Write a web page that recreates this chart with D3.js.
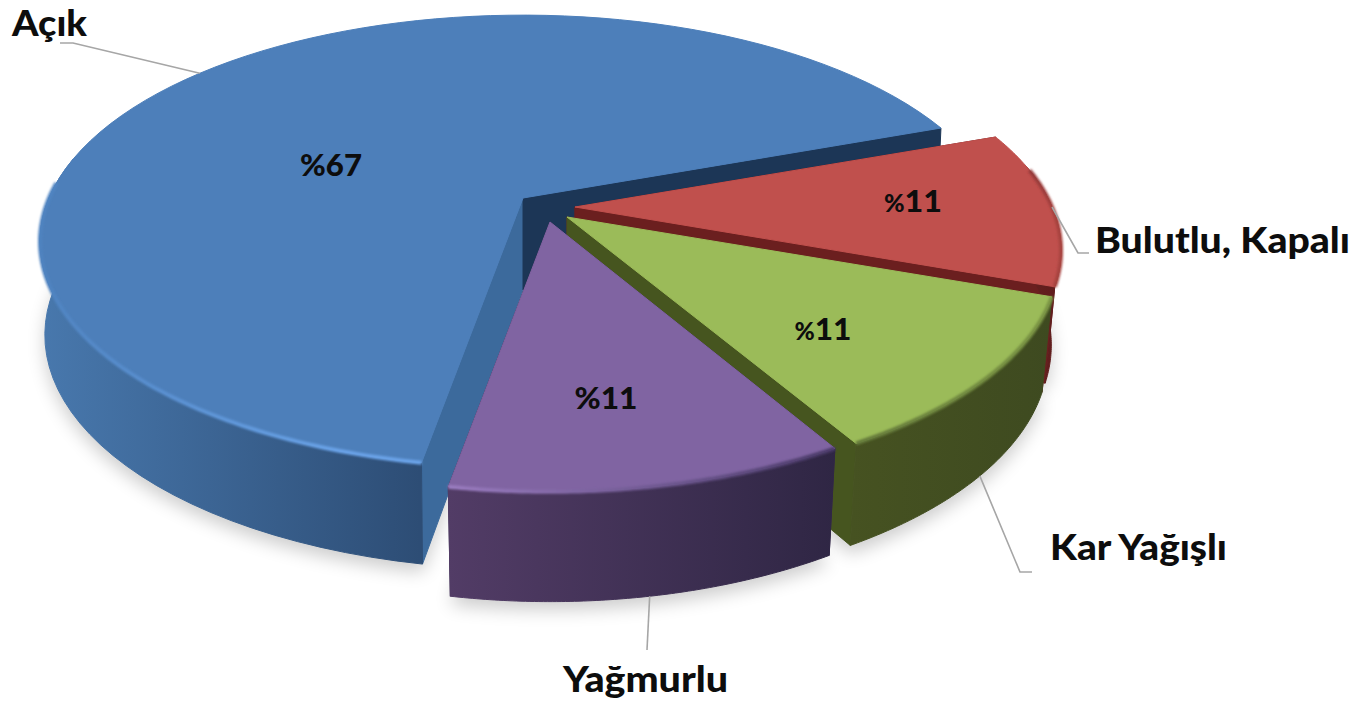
<!DOCTYPE html>
<html><head><meta charset="utf-8">
<script src="https://cdn.jsdelivr.net/npm/d3@7"></script>
<style>html,body{margin:0;background:#fff}svg{display:block}text{font-family:Lato,"Open Sans",sans-serif;font-weight:900;fill:#0d0d0d}</style>
</head><body><svg id="c" width="1363" height="704"></svg>
<script>
const categories = ["Bulutlu, Kapalı","Kar Yağışlı","Yağmurlu","Açık"];
const values = [1,1,1,6];
const topColors = ["#c0504d","#9bbb59","#8064a2","#4d7fba"];
const apexX = [575,567,550,523];
const apexY = [207,217,222,198];
const radii = [477,482,475,474];
const bottomScale = [0.98,0.98,0.98,0.99];
const wallGrow = [62,50,75,40];
const wallColors = [["#6e2422","#5e1c1c"],["#465221","#3e4a20"],["#523c66","#2f2644"],["#4878ad","#2d4d75"]];
const startWall = ["#6b1f1f","#6b1f1f","#3a2c50","#3c6a9c"];
const endWall = ["#6b1f1f","#46551f","#3a2c50","#1c3656"];
const rimColors = [["#a8443f","#94393a"],["#7a9444","#64793a"],["#9a7cc0","#4a3a68"],["#4f83c0","#6aa3e8"]];
const pctAt = [[913,201],[823,329],[606,398],[331,165]];
const pctWidth = [58,57,63,62];
const pctSmall = [true,true,false,false];
const labelAt = [[1095,253],[1050,560],[563,692],[12,36]];
const labelWidth = [255,177,165,75];
const elbow = [[[1078,253],[1089,253]],[[1020,572],[1032,572]],[[647,650]],[[73,43],[60,43]]];

const svg = d3.select("#c"), defs = svg.append("defs");
const K = 218, P = 0.192;
const rad = d => d*Math.PI/180;
const pie = d3.pie().sort(null).startAngle(rad(70)).endAngle(rad(430));
const arcs = pie(values);
const total = d3.sum(values);
const phi = a => a - Math.PI/2;
function topPt(i,a){const u=Math.cos(a),v=Math.sin(a),f=1/(1-P*v);return [apexX[i]+radii[i]*u*f, apexY[i]+K*v*f, f];}
function botPt(i,a){const u=Math.cos(a),v=Math.sin(a),f=1/(1-P*v);return [apexX[i]+bottomScale[i]*radii[i]*u*f, apexY[i]+K*v*f+92+(f-1)*wallGrow[i], f];}
const line = d3.line();
const arcAngles = (a,b,n=90)=>d3.range(n+1).map(t=>a+(b-a)*t/n);

const blur = (id,s)=>defs.append("filter").attr("id",id).attr("x","-20%").attr("y","-20%").attr("width","140%").attr("height","140%").append("feGaussianBlur").attr("stdDeviation",s);
blur("sh",9); blur("rim",1.3);

function grad(id,x1,x2,a,b){const g=defs.append("linearGradient").attr("id",id).attr("gradientUnits","userSpaceOnUse").attr("x1",x1).attr("x2",x2).attr("y1",0).attr("y2",0);
 g.append("stop").attr("offset",0).attr("stop-color",a);g.append("stop").attr("offset",1).attr("stop-color",b);return `url(#${id})`;}

// ground shadow
arcs.forEach((d,i)=>{
 const A=arcAngles(phi(d.startAngle),phi(d.endAngle));
 const pts=A.map(a=>{const p=botPt(i,a);return [p[0],p[1]+8];});
 pts.push([apexX[i],apexY[i]+100]);
 svg.append("path").attr("d",line(pts)+"Z").attr("fill","#000").attr("opacity",0.2).attr("filter","url(#sh)");
});
const order=[3,0,1,2];
order.forEach(i=>{
 const d=arcs[i], a0=phi(d.startAngle), a1=phi(d.endAngle);
 const A=arcAngles(a0,a1);
 const g=svg.append("g").datum(d);
 const apexBot=[apexX[i],apexY[i]+92];
 // radial walls
 const wall=(a,c)=>g.append("path").attr("d",line([topPt(i,a).slice(0,2),botPt(i,a).slice(0,2),apexBot,[apexX[i],apexY[i]]])+"Z").attr("fill",c).attr("stroke",c).attr("stroke-linejoin","round");
 wall(a0,startWall[i]); wall(a1,endWall[i]);
 // outer wall
 const outer=A.map(a=>topPt(i,a).slice(0,2)).concat(A.slice().reverse().map(a=>botPt(i,a).slice(0,2)));
 const xs=outer.map(p=>p[0]);
 const fillId=grad("w"+i,d3.min(xs),i===3?d3.min(xs)+380:d3.max(xs),wallColors[i][0],wallColors[i][1]);
 const visible=A.filter(a=>Math.sin(a)>-0.2);
 const front=visible.map(a=>topPt(i,a).slice(0,2)).concat(visible.slice().reverse().map(a=>botPt(i,a).slice(0,2)));
 g.append("path").attr("d",line(front)+"Z").attr("fill",fillId).attr("stroke",fillId).attr("stroke-linejoin","round");
 // top face
 const face=[[apexX[i],apexY[i]]].concat(A.map(a=>topPt(i,a).slice(0,2)));
 g.append("path").attr("d",line(face)+"Z").attr("fill",topColors[i]).attr("stroke",topColors[i]).attr("stroke-width",1).attr("stroke-linejoin","round");
 // bevel highlight
 const rimA=i===3?arcAngles(a0,rad(184)):i===0?arcAngles(rad(-10),a1):A;
 const rimPts=rimA.map(a=>topPt(i,a).slice(0,2));
 const rxs=rimPts.map(p=>p[0]);
 const rimId=grad("r"+i,d3.min(rxs),d3.max(rxs),i===2?rimColors[i][0]:rimColors[i][1],i===2?rimColors[i][1]:rimColors[i][0]);
 const rimId2=i===3?grad("r3b",d3.min(rxs),d3.min(rxs)+300,rimColors[3][0],rimColors[3][1]):rimId;
 g.append("path").attr("d",line(rimPts)).attr("fill","none").attr("stroke",rimId2).attr("stroke-width",4).attr("filter","url(#rim)");
});
// leaders
arcs.forEach((d,i)=>{
 const a=phi((d.startAngle+d.endAngle)/2);
 const s=(i===3||i===0)?topPt(i,a):botPt(i,a);
 svg.append("path").attr("d",line([s.slice(0,2)].concat(elbow[i]))).attr("fill","none").attr("stroke","#a6a6a6").attr("stroke-width",1.6);
});
// labels
arcs.forEach((d,i)=>{
 svg.append("text").attr("x",labelAt[i][0]).attr("y",labelAt[i][1]).attr("font-size",36)
  .attr("textLength",labelWidth[i]).attr("lengthAdjust","spacingAndGlyphs").text(categories[i]);
 const t=svg.append("text").attr("x",pctAt[i][0]-pctWidth[i]/2).attr("y",pctAt[i][1]+11).attr("font-size",31)
  .attr("textLength",pctWidth[i]).attr("lengthAdjust","spacingAndGlyphs");
 t.append("tspan").attr("font-size",pctSmall[i]?24:31).text("%");
 t.append("tspan").text(Math.round(d.value/total*100));
});
</script></body></html>
